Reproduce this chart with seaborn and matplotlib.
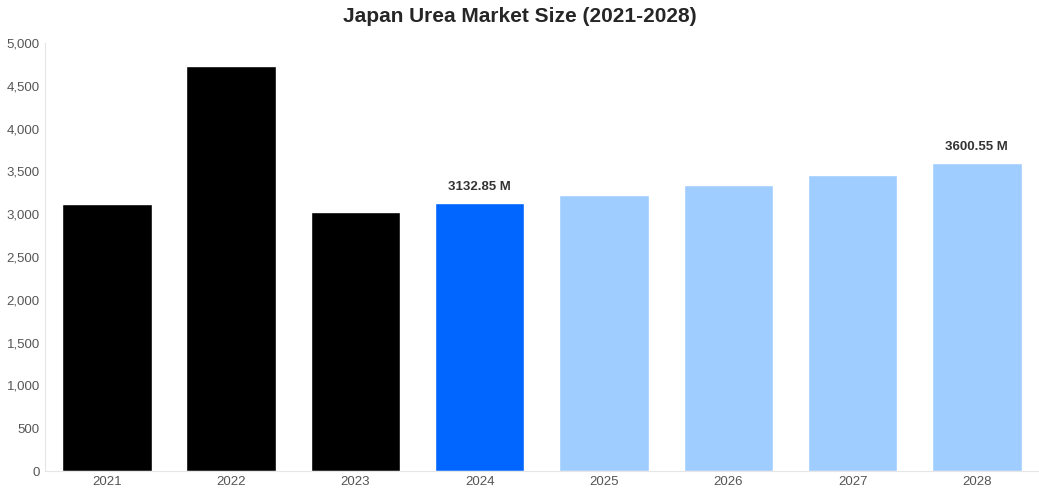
import matplotlib
matplotlib.use("Agg")
import matplotlib.pyplot as plt
import seaborn as sns
import pandas as pd

years = ["2021","2022","2023","2024","2025","2026","2027","2028"]
values = [3119, 4731, 3026, 3132.85, 3224, 3341, 3458, 3600.55]
colors = ["#000000","#000000","#000000","#0066ff","#a0cdff","#a0cdff","#a0cdff","#a0cdff"]
labels = {3: "3132.85 M", 7: "3600.55 M"}

sns.set_style("white")
plt.rcParams['font.family'] = ['Liberation Sans', 'DejaVu Sans']
df = pd.DataFrame({"year": years, "value": values})
fig = plt.figure(figsize=(10.39, 5.0), dpi=100)
ax = fig.add_axes([0.043, 0.058, 0.957, 0.856])
sns.barplot(data=df, x="year", y="value", hue="year", palette=colors, legend=False, width=0.72, ax=ax, saturation=1)
ax.set_ylim(0, 5000)
ax.set_xlim(-0.5, 7.5)
ax.set_yticks(range(0, 5001, 500))
ax.set_yticklabels([f"{v:,}" for v in range(0, 5001, 500)])
ax.tick_params(axis='both', labelsize=9.5, colors="#555555", length=0)
ax.set_xlabel(""); ax.set_ylabel("")
for s in ["top", "right"]:
    ax.spines[s].set_visible(False)
ax.spines["left"].set_color("#e6e6e6")
ax.spines["bottom"].set_color("#e6e6e6")
for i, t in labels.items():
    ax.text(i, values[i] + 110, t, ha="center", va="bottom", fontsize=9.5, fontweight="bold", color="#333333")
fig.suptitle("Japan Urea Market Size (2021-2028)", fontsize=15, fontweight="bold", y=0.985)
fig.savefig("out.png", dpi=100)
